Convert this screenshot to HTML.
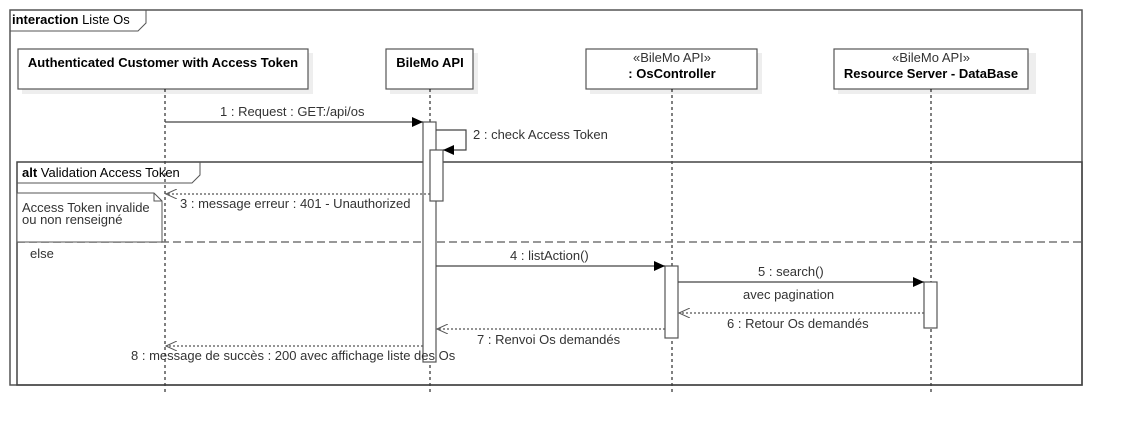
<!DOCTYPE html>
<html><head><meta charset="utf-8"><style>
html,body{margin:0;padding:0;background:#fff;}
svg{display:block;font-family:"Liberation Sans",sans-serif;font-size:13px;}
</style></head><body>
<svg width="1122" height="426" viewBox="0 0 1122 426" xmlns="http://www.w3.org/2000/svg">
<defs>
<marker id="fa" markerWidth="12" markerHeight="10" refX="11" refY="5" orient="auto" markerUnits="userSpaceOnUse"><path d="M0,0 L11,5 L0,10 z" fill="#000"/></marker>
<marker id="oa" markerWidth="12" markerHeight="10" refX="11" refY="5" orient="auto" markerUnits="userSpaceOnUse"><path d="M0,0 L11,5 L0,10" fill="none" stroke="#555" stroke-width="1"/></marker>
</defs>
<rect x="10" y="10" width="1072" height="375" fill="none" stroke="#555" stroke-width="1.5"/>
<path d="M10,31 L138,31 L146,23 L146,10" fill="none" stroke="#555"/>
<text x="12" y="24"><tspan font-weight="bold">interaction</tspan> Liste Os</text>
<g fill="#eee">
<rect x="22" y="53" width="291" height="41"/>
<rect x="390" y="53" width="88" height="41"/>
<rect x="590" y="53" width="172" height="41"/>
<rect x="838" y="53" width="198" height="41"/>
</g>
<g fill="#fff" stroke="#555" stroke-width="1.2">
<rect x="18" y="49" width="290" height="40"/>
<rect x="386" y="49" width="87" height="40"/>
<rect x="586" y="49" width="171" height="40"/>
<rect x="834" y="49" width="194" height="40"/>
</g>
<g text-anchor="middle">
<text x="163" y="67" font-weight="bold">Authenticated Customer with Access Token</text>
<text x="430" y="67" font-weight="bold">BileMo API</text>
<text x="672" y="62" fill="#333">«BileMo API»</text>
<text x="672" y="78" font-weight="bold">: OsController</text>
<text x="931" y="62" fill="#333">«BileMo API»</text>
<text x="931" y="78" font-weight="bold">Resource Server - DataBase</text>
</g>
<g stroke="#000" stroke-dasharray="3,3" stroke-width="1">
<line x1="165" y1="89" x2="165" y2="395"/>
<line x1="430" y1="89" x2="430" y2="395"/>
<line x1="672" y1="89" x2="672" y2="395"/>
<line x1="931" y1="89" x2="931" y2="395"/>
</g>
<rect x="17" y="162" width="1065" height="223" fill="none" stroke="#444" stroke-width="1.5"/>
<path d="M17,183 L192,183 L200,175 L200,162" fill="none" stroke="#555"/>
<text x="22" y="177"><tspan font-weight="bold">alt</tspan>  Validation Access Token</text>
<line x1="17" y1="242" x2="1082" y2="242" stroke="#777" stroke-width="1.5" stroke-dasharray="8,4"/>
<text x="30" y="258" fill="#333">else</text>
<path d="M17,193 L154,193 L162,201 L162,242 L17,242 z" fill="#fff" stroke="#555"/>
<path d="M154,193 L154,201 L162,201" fill="none" stroke="#555"/>
<text x="22" y="212" fill="#333">Access Token invalide</text>
<text x="22" y="224" fill="#333">ou non renseigné</text>
<g fill="#fff" stroke="#555" stroke-width="1.2">
<rect x="423" y="122" width="13" height="240"/>
<rect x="430" y="150" width="13" height="51"/>
<rect x="665" y="266" width="13" height="72"/>
<rect x="924" y="282" width="13" height="46"/>
</g>
<g stroke="#444" stroke-width="1.2" fill="none">
<line x1="165" y1="122" x2="423" y2="122" marker-end="url(#fa)"/>
<path d="M436,130 L466,130 L466,150 L443,150" marker-end="url(#fa)"/>
<line x1="436" y1="266" x2="665" y2="266" marker-end="url(#fa)"/>
<line x1="678" y1="282" x2="924" y2="282" marker-end="url(#fa)"/>
</g>
<g stroke="#555" stroke-width="1.2" fill="none" stroke-dasharray="2,2">
<line x1="430" y1="194" x2="166" y2="194" marker-end="url(#oa)"/>
<line x1="924" y1="313" x2="679" y2="313" marker-end="url(#oa)"/>
<line x1="665" y1="329" x2="437" y2="329" marker-end="url(#oa)"/>
<line x1="423" y1="346" x2="166" y2="346" marker-end="url(#oa)"/>
</g>
<g fill="#333">
<text x="220" y="116">1 : Request : GET:/api/os</text>
<text x="473" y="139">2 : check Access Token</text>
<text x="180" y="208">3 : message erreur : 401 - Unauthorized</text>
<text x="510" y="260">4 : listAction()</text>
<text x="758" y="276">5 : search()</text>
<text x="743" y="299">avec pagination</text>
<text x="727" y="328">6 : Retour Os demandés</text>
<text x="477" y="344">7 : Renvoi Os demandés</text>
<text x="131" y="360">8 : message de succès : 200 avec affichage liste des Os</text>
</g>
</svg>
</body></html>
